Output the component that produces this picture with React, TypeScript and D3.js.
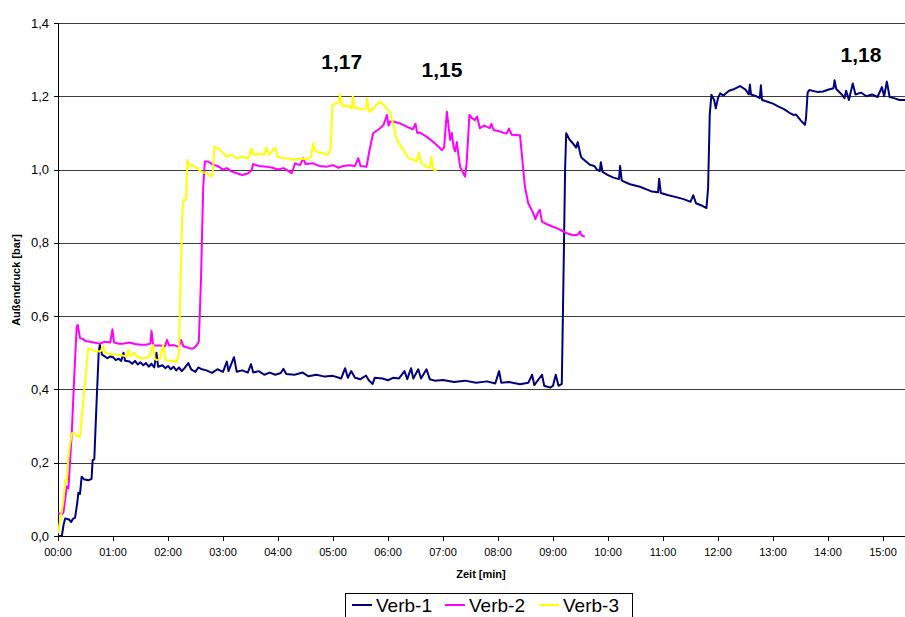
import * as d3 from "d3";

// time in minutes, pressure in bar
const verb1: [number, number][] = [
  [0, 0], [0.07, 0], [0.1, 0.03], [0.13, 0.048], [0.2, 0.045], [0.24, 0.038], [0.27, 0.047], [0.31, 0.05],
  [0.35, 0.09], [0.37, 0.118], [0.4, 0.115], [0.43, 0.162], [0.47, 0.155], [0.55, 0.152], [0.61, 0.156],
  [0.63, 0.207], [0.66, 0.21], [0.7, 0.36], [0.74, 0.5], [0.76, 0.522], [0.8, 0.495], [0.85, 0.49], [0.9, 0.485],
  [0.95, 0.49], [1.0, 0.488], [1.05, 0.48], [1.1, 0.484], [1.15, 0.478], [1.19, 0.5], [1.22, 0.478], [1.3, 0.476],
  [1.35, 0.47], [1.4, 0.478], [1.45, 0.468], [1.5, 0.474], [1.55, 0.466], [1.6, 0.472], [1.65, 0.462], [1.7, 0.47],
  [1.75, 0.46], [1.79, 0.5], [1.82, 0.462], [1.9, 0.466], [1.95, 0.458], [2.0, 0.464], [2.05, 0.455], [2.1, 0.462],
  [2.15, 0.452], [2.2, 0.46], [2.25, 0.45], [2.3, 0.458], [2.37, 0.472], [2.42, 0.455], [2.5, 0.448], [2.55, 0.46],
  [2.6, 0.456], [2.7, 0.452], [2.8, 0.445], [2.9, 0.455], [3.0, 0.448], [3.07, 0.476], [3.1, 0.45], [3.2, 0.488],
  [3.25, 0.448], [3.35, 0.452], [3.45, 0.446], [3.51, 0.469], [3.55, 0.446], [3.65, 0.45], [3.75, 0.44],
  [3.85, 0.446], [3.95, 0.44], [4.05, 0.445], [4.1, 0.456], [4.15, 0.442], [4.3, 0.44], [4.45, 0.446],
  [4.55, 0.436], [4.7, 0.44], [4.85, 0.435], [5.0, 0.437], [5.15, 0.43], [5.22, 0.458], [5.27, 0.432],
  [5.33, 0.45], [5.4, 0.432], [5.5, 0.428], [5.6, 0.438], [5.65, 0.425], [5.72, 0.415], [5.76, 0.432],
  [5.9, 0.43], [6.0, 0.425], [6.1, 0.432], [6.2, 0.43], [6.3, 0.45], [6.35, 0.428], [6.42, 0.458], [6.46, 0.43],
  [6.55, 0.455], [6.6, 0.43], [6.7, 0.455], [6.76, 0.428], [6.85, 0.424], [7.0, 0.426], [7.2, 0.42], [7.4, 0.424],
  [7.6, 0.418], [7.8, 0.422], [7.95, 0.416], [8.02, 0.45], [8.06, 0.418], [8.2, 0.42], [8.4, 0.414], [8.55, 0.418],
  [8.62, 0.44], [8.66, 0.412], [8.8, 0.44], [8.84, 0.41], [8.95, 0.405], [9.0, 0.41], [9.05, 0.44], [9.1, 0.41],
  [9.16, 0.415], [9.19, 0.7], [9.22, 1.0], [9.24, 1.099], [9.3, 1.082], [9.37, 1.07], [9.42, 1.06], [9.45, 1.075],
  [9.5, 1.04], [9.52, 1.032], [9.6, 1.022], [9.67, 1.013], [9.75, 1.01], [9.8, 1.0], [9.85, 0.996], [9.87, 1.02],
  [9.9, 0.994], [10.0, 0.985], [10.1, 0.978], [10.2, 0.974], [10.22, 1.01], [10.25, 0.97], [10.4, 0.96],
  [10.58, 0.953], [10.7, 0.946], [10.8, 0.94], [10.91, 0.938], [10.93, 0.975], [10.96, 0.936], [11.1, 0.93],
  [11.31, 0.922], [11.4, 0.918], [11.5, 0.912], [11.55, 0.93], [11.6, 0.908], [11.7, 0.902], [11.79, 0.895],
  [11.82, 0.95], [11.85, 1.15], [11.88, 1.204], [11.93, 1.19], [11.96, 1.167], [12.0, 1.195], [12.04, 1.208],
  [12.1, 1.202], [12.2, 1.215], [12.3, 1.22], [12.4, 1.228], [12.5, 1.218], [12.56, 1.205], [12.58, 1.232],
  [12.6, 1.205], [12.7, 1.2], [12.76, 1.195], [12.78, 1.23], [12.8, 1.19], [12.9, 1.185], [13.0, 1.18],
  [13.1, 1.172], [13.2, 1.165], [13.3, 1.155], [13.37, 1.149], [13.42, 1.15], [13.5, 1.135], [13.58, 1.122],
  [13.6, 1.14], [13.63, 1.21], [13.66, 1.217], [13.8, 1.212], [13.91, 1.213], [14.0, 1.218], [14.1, 1.222],
  [14.12, 1.244], [14.15, 1.22], [14.25, 1.205], [14.3, 1.195], [14.33, 1.215], [14.38, 1.19], [14.45, 1.235],
  [14.5, 1.205], [14.6, 1.21], [14.7, 1.2], [14.8, 1.205], [14.9, 1.198], [14.98, 1.225], [15.02, 1.2],
  [15.07, 1.24], [15.12, 1.198], [15.2, 1.195], [15.3, 1.19], [15.4, 1.19],
];

const verb2: [number, number][] = [
  [0, 0.062], [0.08, 0.06], [0.1, 0.065], [0.16, 0.135], [0.19, 0.13], [0.25, 0.28], [0.3, 0.45], [0.34, 0.571],
  [0.36, 0.576], [0.4, 0.54], [0.45, 0.538], [0.5, 0.532], [0.58, 0.53], [0.65, 0.528], [0.76, 0.525],
  [0.85, 0.53], [0.95, 0.528], [0.99, 0.564], [1.02, 0.528], [1.1, 0.525], [1.19, 0.525], [1.3, 0.528],
  [1.4, 0.524], [1.5, 0.522], [1.6, 0.522], [1.68, 0.525], [1.7, 0.56], [1.73, 0.52], [1.85, 0.52], [1.95, 0.518],
  [1.98, 0.535], [2.02, 0.52], [2.1, 0.521], [2.2, 0.516], [2.24, 0.535], [2.28, 0.518], [2.4, 0.512],
  [2.46, 0.512], [2.52, 0.52], [2.56, 0.53], [2.6, 0.7], [2.64, 0.95], [2.67, 1.022], [2.73, 1.022],
  [2.82, 1.013], [2.9, 1.01], [3.0, 1.0], [3.07, 1.004], [3.15, 0.995], [3.25, 0.99], [3.35, 0.985], [3.46, 0.99],
  [3.52, 0.998], [3.55, 1.015], [3.65, 1.01], [3.79, 1.008], [3.9, 1.005], [4.0, 1.0], [4.1, 1.004], [4.2, 0.995],
  [4.25, 0.99], [4.31, 1.017], [4.4, 1.012], [4.46, 1.031], [4.5, 1.015], [4.64, 1.017], [4.75, 1.01],
  [4.89, 1.008], [5.0, 1.012], [5.1, 1.005], [5.19, 1.01], [5.3, 1.012], [5.4, 1.01], [5.46, 1.031], [5.5, 1.01],
  [5.61, 1.008], [5.66, 1.05], [5.73, 1.099], [5.85, 1.112], [5.92, 1.122], [5.98, 1.149], [6.01, 1.12],
  [6.04, 1.131], [6.1, 1.131], [6.22, 1.126], [6.34, 1.117], [6.45, 1.11], [6.5, 1.125], [6.53, 1.1],
  [6.58, 1.101], [6.7, 1.09], [6.82, 1.076], [6.9, 1.065], [6.98, 1.053], [7.02, 1.06], [7.07, 1.158],
  [7.13, 1.081], [7.16, 1.1], [7.19, 1.063], [7.22, 1.05], [7.25, 1.075], [7.31, 1.008], [7.4, 0.981],
  [7.43, 1.017], [7.48, 1.149], [7.53, 1.14], [7.58, 1.135], [7.62, 1.145], [7.67, 1.113], [7.75, 1.12],
  [7.85, 1.113], [7.88, 1.125], [7.92, 1.108], [8.04, 1.104], [8.1, 1.1], [8.16, 1.099], [8.2, 1.112],
  [8.25, 1.095], [8.37, 1.094], [8.4, 1.094], [8.46, 0.999], [8.49, 0.953], [8.55, 0.908], [8.64, 0.881],
  [8.68, 0.865], [8.72, 0.88], [8.76, 0.89], [8.8, 0.858], [8.9, 0.85], [9.0, 0.844], [9.1, 0.838],
  [9.19, 0.831], [9.25, 0.826], [9.37, 0.821], [9.45, 0.822], [9.49, 0.831], [9.52, 0.82], [9.58, 0.817],
];

const verb3: [number, number][] = [
  [0, 0.007], [0.1, 0.098], [0.13, 0.153], [0.16, 0.15], [0.19, 0.22], [0.25, 0.28], [0.28, 0.282], [0.33, 0.275],
  [0.4, 0.27], [0.46, 0.371], [0.55, 0.512], [0.62, 0.508], [0.7, 0.503], [0.78, 0.505], [0.82, 0.52], [0.85, 0.5],
  [0.885, 0.498], [1.0, 0.496], [1.13, 0.494], [1.25, 0.49], [1.28, 0.508], [1.32, 0.49], [1.38, 0.5],
  [1.45, 0.488], [1.55, 0.485], [1.65, 0.488], [1.73, 0.521], [1.76, 0.484], [1.79, 0.48], [1.85, 0.482],
  [1.91, 0.521], [1.95, 0.48], [2.05, 0.478], [2.16, 0.476], [2.2, 0.5], [2.22, 0.644], [2.26, 0.88],
  [2.28, 0.917], [2.33, 0.917], [2.35, 1.026], [2.4, 1.008], [2.45, 1.012], [2.52, 1.004], [2.61, 0.994],
  [2.7, 0.99], [2.79, 0.981], [2.82, 1.0], [2.84, 1.063], [2.9, 1.058], [2.95, 1.053], [3.0, 1.045],
  [3.07, 1.035], [3.15, 1.04], [3.25, 1.031], [3.35, 1.035], [3.46, 1.03], [3.52, 1.058], [3.56, 1.04],
  [3.67, 1.044], [3.75, 1.04], [3.79, 1.06], [3.84, 1.04], [3.95, 1.06], [3.99, 1.035], [4.1, 1.031], [4.2, 1.03],
  [4.28, 1.026], [4.4, 1.03], [4.52, 1.028], [4.6, 1.035], [4.64, 1.072], [4.67, 1.05], [4.7, 1.049],
  [4.8, 1.045], [4.91, 1.04], [4.96, 1.06], [4.99, 1.176], [5.05, 1.18], [5.1, 1.185], [5.13, 1.204],
  [5.16, 1.175], [5.19, 1.172], [5.25, 1.175], [5.34, 1.167], [5.36, 1.2], [5.39, 1.168], [5.49, 1.167],
  [5.55, 1.165], [5.6, 1.168], [5.62, 1.195], [5.65, 1.16], [5.67, 1.158], [5.75, 1.17], [5.85, 1.185],
  [5.9, 1.18], [5.98, 1.167], [6.04, 1.154], [6.1, 1.12], [6.16, 1.081], [6.28, 1.053], [6.37, 1.031],
  [6.45, 1.028], [6.52, 1.022], [6.56, 1.045], [6.6, 1.02], [6.7, 1.008], [6.76, 1.005], [6.79, 1.035],
  [6.82, 1.0], [6.89, 0.999],
];

const seriesNames = ["Verb-1", "Verb-2", "Verb-3"];
const seriesColors = ["#000080", "#ff00ff", "#ffff00"];
const yTicks = [0, 0.2, 0.4, 0.6, 0.8, 1.0, 1.2, 1.4];
const xTicks = d3.range(0, 16);
const peakLabels = ["1,17", "1,15", "1,18"];
const peakAt: [number, number][] = [[5.16, 1.275], [6.98, 1.253], [14.6, 1.293]];

const W = 905;
const H = 617;
const FONT = "Arial, 'Liberation Sans', sans-serif";

export default function App() {
  const x = d3.scaleLinear().domain([0, 15.4]).range([58, 905]);
  const y = d3.scaleLinear().domain([0, 1.4]).range([536, 23]);
  const line = d3
    .line<[number, number]>()
    .x((d) => x(d[0]))
    .y((d) => y(d[1]));
  const all = [verb1, verb2, verb3];
  const fmtY = (v: number) => v.toFixed(1).replace(".", ",");
  const fmtX = (m: number) => `${String(m).padStart(2, "0")}:00`;

  return (
    <div style={{ position: "absolute", left: 0, top: 0 }}>
      <svg width={W} height={H} style={{ display: "block", background: "#fff" }} fontFamily={FONT}>
        {/* grid */}
        {yTicks.slice(1).map((t) => (
          <line key={t} x1={58} x2={905} y1={Math.round(y(t)) + 0.5} y2={Math.round(y(t)) + 0.5} stroke="#3c3c3c" strokeWidth={1} />
        ))}
        {/* axes */}
        <line x1={58.5} x2={58.5} y1={23} y2={536.5} stroke="#000" />
        <line x1={58} x2={905} y1={536.5} y2={536.5} stroke="#000" />
        {yTicks.map((t) => (
          <g key={t}>
            <line x1={54} x2={58} y1={Math.round(y(t)) + 0.5} y2={Math.round(y(t)) + 0.5} stroke="#000" />
            <text x={49} y={y(t) + 4.5} textAnchor="end" fontSize={13} fill="#000">
              {fmtY(t)}
            </text>
          </g>
        ))}
        {xTicks.map((m) => (
          <g key={m}>
            <line x1={Math.round(x(m)) + 0.5} x2={Math.round(x(m)) + 0.5} y1={536} y2={541} stroke="#000" />
            <text x={x(m)} y={556} textAnchor="middle" fontSize={11} fill="#000">
              {fmtX(m)}
            </text>
          </g>
        ))}
        {/* series */}
        <defs>
          <clipPath id="plot">
            <rect x={58} y={20} width={847} height={518} />
          </clipPath>
        </defs>
        <g clipPath="url(#plot)" fill="none" strokeWidth={2} strokeLinejoin="round">
          {all.map((s, i) => (
            <path key={seriesNames[i]} d={line(s) ?? ""} stroke={seriesColors[i]} />
          ))}
        </g>
        {/* peak labels */}
        {peakLabels.map((lab, i) => (
          <text key={lab} x={x(peakAt[i][0])} y={y(peakAt[i][1])} textAnchor="middle" fontSize={21} fontWeight="bold" fill="#000">
            {lab}
          </text>
        ))}
        {/* axis titles */}
        <text x={481} y={578} textAnchor="middle" fontSize={11} fontWeight="bold">
          Zeit [min]
        </text>
        <text transform="translate(20,280) rotate(-90)" textAnchor="middle" fontSize={11} fontWeight="bold">
          Außendruck [bar]
        </text>
        {/* legend */}
        <rect x={345.5} y={593.5} width={287} height={30} fill="#fff" stroke="#000" />
        {seriesNames.map((n, i) => {
          const lx = [352, 445, 539][i];
          return (
            <g key={n}>
              <line x1={lx} x2={lx + 20} y1={605} y2={605} stroke={seriesColors[i]} strokeWidth={2} />
              <text x={lx + 24} y={612} fontSize={19} fill="#000">
                {n}
              </text>
            </g>
          );
        })}
      </svg>
    </div>
  );
}
